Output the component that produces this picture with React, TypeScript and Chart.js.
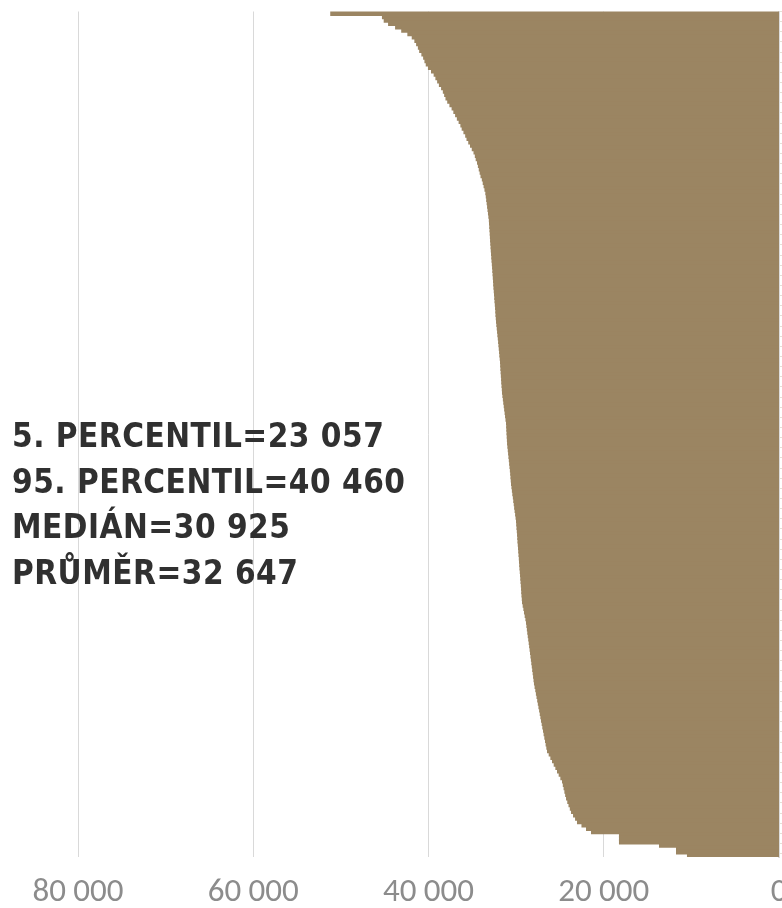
import React, { useEffect, useRef } from "react";
import { Chart, registerables } from "chart.js";

Chart.register(...registerables);

// Sorted values (one bar per rank, largest at top)
const VALUES: number[] = [
  51100, 45200, 45000, 44500, 43700, 43000, 42300, 41800, 41500, 41300,
  41100, 40950, 40700, 40500, 40350, 40200, 39950, 39600, 39300, 39100,
  38900, 38700, 38450, 38250, 38100, 37950, 37750, 37500, 37250, 37050,
  36850, 36650, 36450, 36250, 36100, 35900, 35700, 35550, 35350, 35150,
  34950, 34750, 34600, 34500, 34350, 34250, 34150, 34050, 33950, 33800,
  33700, 33600, 33500, 33400, 33350, 33300, 33250, 33200, 33150, 33100,
  33050, 33000, 32980, 32950, 32920, 32900, 32880, 32860, 32830, 32800,
  32780, 32750, 32720, 32690, 32660, 32630, 32600, 32570, 32550, 32520,
  32500, 32470, 32440, 32410, 32380, 32350, 32320, 32290, 32260, 32240,
  32210, 32180, 32140, 32100, 32060, 32020, 31980, 31940, 31900, 31870,
  31830, 31800, 31760, 31725, 31700, 31680, 31650, 31630, 31600, 31580,
  31550, 31520, 31500, 31450, 31400, 31350, 31300, 31250, 31200, 31150,
  31100, 31040, 31020, 31000, 30980, 30960, 30940, 30920, 30880, 30840,
  30800, 30760, 30720, 30680, 30640, 30600, 30560, 30530, 30500, 30470,
  30420, 30370, 30320, 30260, 30210, 30160, 30110, 30060, 30000, 29950,
  29900, 29870, 29840, 29810, 29780, 29750, 29730, 29700, 29670, 29640,
  29610, 29580, 29560, 29530, 29500, 29470, 29440, 29410, 29380, 29350,
  29320, 29300, 29270, 29240, 29215, 29140, 29060, 28990, 28910, 28830,
  28760, 28710, 28660, 28610, 28560, 28500, 28450, 28400, 28350, 28300,
  28250, 28200, 28150, 28100, 28050, 28000, 27950, 27900, 27850, 27780,
  27700, 27630, 27560, 27480, 27410, 27340, 27260, 27190, 27120, 27050,
  26970, 26900, 26820, 26750, 26670, 26590, 26520, 26440, 26360, 26170,
  25980, 25790, 25600, 25410, 25220, 25030, 24840, 24650, 24560, 24470,
  24380, 24290, 24190, 24050, 23910, 23760, 23620, 23390, 23160, 22940,
  22430, 21910, 21340, 18150, 18150, 18150, 13580, 11640, 11640, 10390,
];

const CATEGORIES: string[] = VALUES.map((_, i) => String(i + 1));

const X_MIN = 0;
const X_MAX = 80000;
const X_STEP = 20000;

const STAT_LINES: string[] = [
  "5. PERCENTIL=23 057",
  "95. PERCENTIL=40 460",
  "MEDIÁN=30 925",
  "PRŮMĚR=32 647",
];

const formatThousands = (v: number) =>
  String(Math.round(v)).replace(/\B(?=(\d{3})+(?!\d))/g, " ");

export default function App() {
  const canvasRef = useRef<HTMLCanvasElement | null>(null);

  useEffect(() => {
    if (!canvasRef.current) return;
    const chart = new Chart(canvasRef.current, {
      type: "bar",
      data: {
        labels: CATEGORIES,
        datasets: [
          {
            data: VALUES,
            backgroundColor: "#9b8562",
            borderWidth: 0,
            inflateAmount: 1,
            barPercentage: 1,
            categoryPercentage: 1,
          } as any,
        ],
      },
      options: {
        indexAxis: "y",
        responsive: false,
        animation: false,
        layout: { padding: { left: 78, right: 0, top: 11.5, bottom: 0 } },
        plugins: {
          legend: { display: false },
          tooltip: { enabled: false },
        },
        scales: {
          x: {
            type: "linear",
            reverse: true,
            min: X_MIN,
            max: X_MAX,
            ticks: {
              stepSize: X_STEP,
              color: "#8c8c8c",
              font: { family: "Carlito, Lato, 'Open Sans', sans-serif", size: 33 },
              padding: 16,
              maxRotation: 0,
              callback: (v: any) => formatThousands(Number(v)),
            },
            grid: {
              color: "#d9d9d9",
              lineWidth: 1,
              drawTicks: false,
            },
            border: { display: false },
            afterFit: (scale: any) => {
              scale.height = 51;
              scale.paddingLeft = 0;
              scale.paddingRight = 0;
              scale.paddingTop = 0;
              scale.paddingBottom = 0;
            },
          },
          y: {
            position: "right",
            ticks: { display: false },
            grid: {
              drawOnChartArea: false,
              drawTicks: true,
              tickLength: 5,
              color: (ctx: any) => (ctx.index % 3 === 0 ? "#e6e0d6" : "rgba(0,0,0,0)"),
            },
            border: { display: true, color: "#dcdcdc", width: 2 },
            afterFit: (scale: any) => {
              scale.width = 5;
              scale.paddingLeft = 0;
              scale.paddingRight = 0;
              scale.paddingTop = 0;
              scale.paddingBottom = 0;
            },
          },
        },
      },
    });
    return () => chart.destroy();
  }, []);

  return (
    <div
      style={{
        position: "absolute",
        left: 0,
        top: 0,
        width: 782,
        height: 908,
        overflow: "hidden",
        background: "#ffffff",
      }}
    >
      <canvas
        ref={canvasRef}
        width={784}
        height={908}
        style={{ display: "block", position: "absolute", left: 0, top: 0 }}
      />
      <div
        style={{
          position: "absolute",
          left: 12,
          top: 413,
          fontFamily: "'DejaVu Sans Condensed', 'DejaVu Sans', sans-serif",
          fontStretch: "condensed",
          fontWeight: "bold",
          fontSize: 33,
          letterSpacing: "0.5px",
          lineHeight: "45.5px",
          color: "#303030",
          whiteSpace: "nowrap",
        }}
      >
        {STAT_LINES.map((line) => (
          <div key={line}>{line}</div>
        ))}
      </div>
    </div>
  );
}
